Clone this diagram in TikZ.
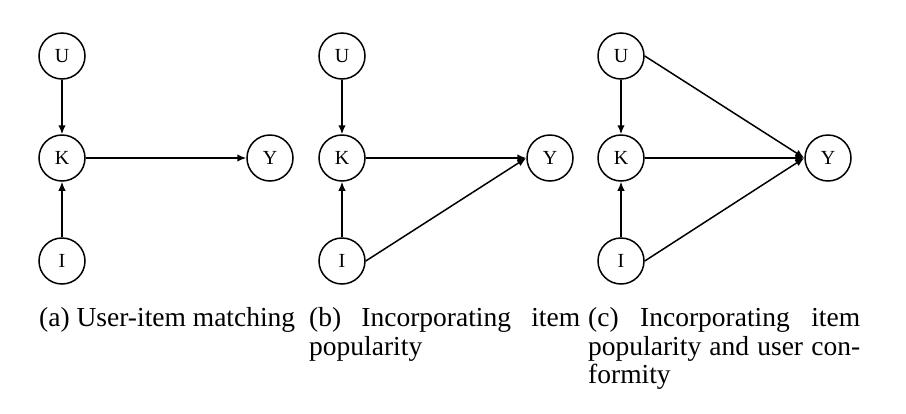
\documentclass[tikz,border=0pt]{standalone}
\usepackage{fontspec}
\setmainfont{Liberation Serif}
\usetikzlibrary{arrows.meta}
\tikzset{
  var/.style={circle,draw,line width=1.5pt,minimum size=46pt,inner sep=0pt,font=\fontsize{20}{20}\selectfont},
  edge/.style={line width=1.5pt,-{Latex[length=9pt,width=7.5pt]}},
  captext/.style={anchor=base west,inner sep=0pt,font=\fontsize{27.5}{28.5}\selectfont}
}
\begin{document}
\begin{tikzpicture}[x=1pt,y=-1pt]
\useasboundingbox (0,0) rectangle (906,413);
% panel (a)
\node[var] (aU) at (62,56) {U};
\node[var] (aK) at (62,158) {K};
\node[var] (aI) at (62,261) {I};
\node[var] (aY) at (270,158) {Y};
\draw[edge] (aU) -- (aK);
\draw[edge] (aI) -- (aK);
\draw[edge] (aK) -- (aY);
% panel (b)
\node[var] (bU) at (342,56) {U};
\node[var] (bK) at (342,158) {K};
\node[var] (bI) at (342,261) {I};
\node[var] (bY) at (550,158) {Y};
\draw[edge] (bU) -- (bK);
\draw[edge] (bI) -- (bK);
\draw[edge] (bK) -- (bY);
\draw[edge] (bI.east) -- (bY.west);
% panel (c)
\node[var] (cU) at (621,56) {U};
\node[var] (cK) at (621,158) {K};
\node[var] (cI) at (621,261) {I};
\node[var] (cY) at (828,158) {Y};
\draw[edge] (cU) -- (cK);
\draw[edge] (cI) -- (cK);
\draw[edge] (cK) -- (cY);
\draw[edge] (cU.east) -- (cY.west);
\draw[edge] (cI.east) -- (cY.west);
% captions
\node[captext] (ca) at (39,326) {(a) User-item matching};
\node[captext] (cb1) at (309,326) {\makebox[271pt][s]{(b) Incorporating item}};
\node[captext] (cb2) at (309,355) {popularity};
\node[captext] (cc1) at (588,326) {\makebox[272pt][s]{(c) Incorporating item}};
\node[captext] (cc2) at (588,355) {\makebox[272pt][s]{popularity and user con-}};
\node[captext] (cc3) at (588,383) {formity};
\end{tikzpicture}
\end{document}
